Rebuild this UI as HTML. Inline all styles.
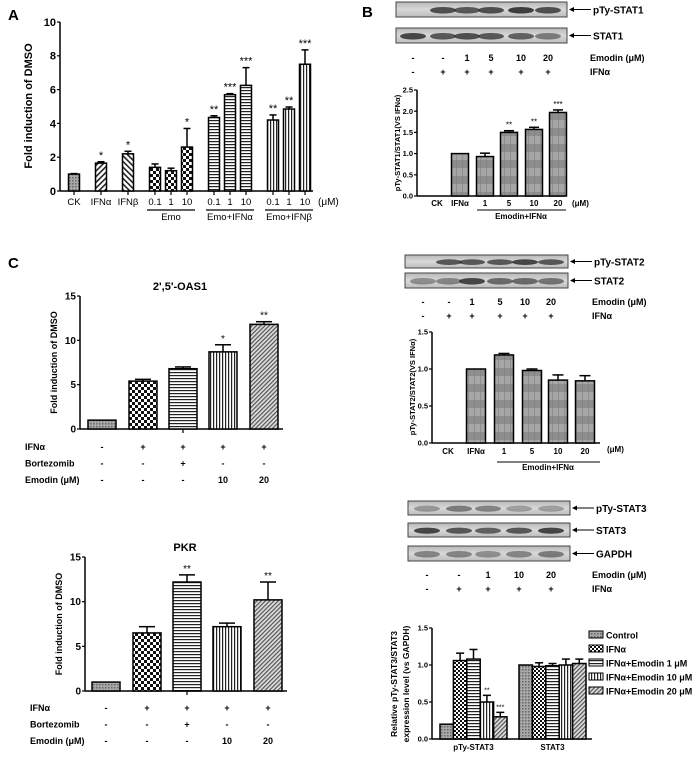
<!DOCTYPE html>
<html><head><meta charset="utf-8"><style>
html,body{margin:0;padding:0;background:#fff;}
svg{display:block;font-family:"Liberation Sans",Arial,sans-serif;font-weight:bold;}
</style></head><body>
<svg id="fig" width="700" height="759" viewBox="0 0 700 759" xmlns="http://www.w3.org/2000/svg">
<defs>
<pattern id="p-gray" width="3" height="3" patternUnits="userSpaceOnUse"><rect width="3" height="3" fill="#a8a8a8"/><rect width="1.5" height="1.5" fill="#666"/></pattern>
<pattern id="p-diag" width="4" height="4" patternUnits="userSpaceOnUse" patternTransform="rotate(45)"><rect width="4" height="4" fill="#fff"/><rect width="1.6" height="4" fill="#222"/></pattern>
<pattern id="p-diag2" width="4" height="4" patternUnits="userSpaceOnUse" patternTransform="rotate(-45)"><rect width="4" height="4" fill="#fff"/><rect width="1.6" height="4" fill="#222"/></pattern>
<pattern id="p-check" width="6" height="6" patternUnits="userSpaceOnUse"><rect width="6" height="6" fill="#fff"/><rect width="3" height="3" fill="#111"/><rect x="3" y="3" width="3" height="3" fill="#111"/></pattern>
<pattern id="p-check2" width="4" height="4" patternUnits="userSpaceOnUse"><rect width="4" height="4" fill="#fff"/><rect width="2" height="2" fill="#111"/><rect x="2" y="2" width="2" height="2" fill="#111"/></pattern>
<pattern id="p-h" width="4" height="3" patternUnits="userSpaceOnUse"><rect width="4" height="3" fill="#fff"/><rect width="4" height="1.2" fill="#222"/></pattern>
<pattern id="p-v" width="3" height="4" patternUnits="userSpaceOnUse"><rect width="3" height="4" fill="#fff"/><rect width="1.2" height="4" fill="#222"/></pattern>
<pattern id="p-hatch" width="3" height="3" patternUnits="userSpaceOnUse" patternTransform="rotate(45)"><rect width="3" height="3" fill="#ddd"/><rect width="1.2" height="3" fill="#555"/></pattern>
<pattern id="p-band" width="6" height="16" patternUnits="userSpaceOnUse"><rect width="6" height="8" fill="#8e8e8e"/><rect y="8" width="6" height="8" fill="#a6a6a6"/><rect width="1" height="16" fill="#777" opacity="0.5"/></pattern>
<linearGradient id="blotbg" x1="0" y1="0" x2="0" y2="1"><stop offset="0" stop-color="#b8b8b8"/><stop offset="0.5" stop-color="#d8d8d8"/><stop offset="1" stop-color="#bcbcbc"/></linearGradient>
</defs>
</svg>
<script>
// ---------- Panel A data ----------
var aCats = ['CK','IFNα','IFNβ','0.1','1','10','0.1','1','10','0.1','1','10'];
var aGroups = [0,1,2,3,3,3,4,4,4,5,5,5];
var aValues = [1,1.65,2.2,1.4,1.2,2.6,4.35,5.7,6.25,4.2,4.85,7.5];
var aErrs = [0.03,0.08,0.15,0.2,0.15,1.1,0.1,0.06,1.05,0.3,0.12,0.85];
var aStars = ['','*','*','','','*','**','***','***','**','**','***'];
var aTicks = [0,2,4,6,8,10];
// ---------- Panel B1 data ----------
var b1Cats = ['CK','IFNα','1','5','10','20'];
var b1Values = [0,1,0.93,1.5,1.57,1.97];
var b1Errs = [0,0,0.08,0.04,0.05,0.06];
var b1Stars = ['','','','**','**','***'];
var b1Ticks = [0,0.5,1.0,1.5,2.0,2.5];
// ---------- Panel B2 data ----------
var b2Cats = ['CK','IFNα','1','5','10','20'];
var b2Values = [0,1,1.19,0.98,0.85,0.84];
var b2Errs = [0,0,0.02,0.02,0.07,0.07];
var b2Ticks = [0,0.5,1.0,1.5];
// ---------- Panel B3 data ----------
var b3Groups = ['pTy-STAT3','STAT3'];
var b3Series = ['Control','IFNα','IFNα+Emodin 1 μM','IFNα+Emodin 10 μM','IFNα+Emodin 20 μM'];
var b3Values = [[0.2,1.06,1.08,0.5,0.3],[1,0.98,0.99,1.0,1.02]];
var b3Errs = [[0,0.1,0.13,0.09,0.06],[0,0.05,0.03,0.08,0.06]];
var b3Stars = [['','','','**','***'],['','','','','']];
var b3Ticks = [0,0.5,1.0,1.5];
// ---------- Panel C data ----------
var cCats = ['CK','IFNα','IFNα+Bort','IFNα+Emo10','IFNα+Emo20'];
var oasValues = [1,5.4,6.8,8.7,11.8];
var oasErrs = [0,0.2,0.2,0.8,0.3];
var oasStars = ['','','','*','**'];
var pkrValues = [1,6.5,12.2,7.2,10.2];
var pkrErrs = [0,0.7,0.8,0.4,2.0];
var pkrStars = ['','','**','','**'];
var cTicks = [0,5,10,15];
var cRowIFN = ['-','+','+','+','+'];
var cRowBort = ['-','-','+','-','-'];
var cRowEmo = ['-','-','-','10','20'];

var NS='http://www.w3.org/2000/svg';
var svg=document.getElementById('fig');
function mk(tag,attrs,parent,txt){var e=document.createElementNS(NS,tag);for(var k in attrs)e.setAttribute(k,attrs[k]);if(txt!==undefined)e.textContent=txt;(parent||svg).appendChild(e);return e;}
function grp(name){var g=mk('g',{});


return g;}
function txt(p,x,y,s,size,anchor,name,extra){var t=mk('text',{x:x,y:y,'font-size':size,'text-anchor':anchor||'middle'},p,s);if(extra)for(var k in extra)t.setAttribute(k,extra[k]);


return t;}

function yAxis(p,ax,y0,yTop,vmax,ticks,fs,fmt,name){
  var sc=function(v){return y0-(v/vmax)*(y0-yTop);};
  var l=mk('line',{x1:ax,y1:y0,x2:ax,y2:yTop,stroke:'#000','stroke-width':1.5},p);
  
  
  ticks.forEach(function(t){
    var tk=mk('line',{x1:ax-3,y1:sc(t),x2:ax,y2:sc(t),stroke:'#000','stroke-width':1.2},p);
    
    
    txt(p,ax-4,sc(t)+fs*0.35,fmt(t),fs,'end',name+'-y-tick-label');
  });
  return sc;
}
function bar(p,cx,w,sc,v,err,fill,star,capW,starFs,name){
  var r=mk('rect',{x:cx-w/2,y:sc(v),width:w,height:Math.max(0,sc(0)-sc(v)),fill:'url(#'+fill+')',stroke:'#000','stroke-width':1.5},p);
  
  
  var top=sc(v);
  if(err>0){
    var e=mk('line',{x1:cx,y1:sc(v),x2:cx,y2:sc(v+err),stroke:'#000','stroke-width':1.5},p);
    
    
    var c=mk('line',{x1:cx-capW/2,y1:sc(v+err),x2:cx+capW/2,y2:sc(v+err),stroke:'#000','stroke-width':1.5},p);
    
    
    top=sc(v+err);
  }
  if(star){txt(p,cx,top-3,star,starFs,'middle',name+'-significance',{'font-weight':'normal'});}
}
function xAxis(p,x1,x2,y,name){
  var l=mk('line',{x1:x1,y1:y,x2:x2,y2:y,stroke:'#000','stroke-width':1.5},p);
  
  
}
function blot(x,y,w,h,lanes,intens,label,name){
  var g=grp(name);
  var r=mk('rect',{x:x,y:y,width:w,height:h,fill:'url(#blotbg)',stroke:'#444','stroke-width':1},g);
  
  
  lanes.forEach(function(lx,i){
    if(intens[i]<=0)return;
    var b=mk('ellipse',{cx:lx,cy:y+h*0.55,rx:13,ry:h*0.22,fill:'#222',opacity:intens[i]},g);
    
    
  });
  var a=mk('line',{x1:x+w+3,y1:y+h/2,x2:x+w+24,y2:y+h/2,stroke:'#000','stroke-width':1},g);
  
  
  var ah=mk('path',{d:'M'+(x+w+2)+','+(y+h/2)+' l5,-2.5 v5 z',fill:'#000'},g);
  
  
  txt(g,x+w+26,y+h/2+4,label,10,'start',name+'-label');
}
function rowLabels(p,xs,y,vals,fs,name){vals.forEach(function(v,i){txt(p,xs[i],y,v,fs,'middle',name);});}

// ===== Panel A =====
(function(){
  var g=grp('panel-a');
  txt(g,8,20,'A',15,'start','panel-a-letter');
  var sc=yAxis(g,60,191,22,10,aTicks,11,function(t){return t;},'panel-a');
  xAxis(g,60,313,191,'panel-a');
  var pats=['p-gray','p-diag','p-diag2','p-check','p-check','p-check','p-h','p-h','p-h','p-v','p-v','p-v'];
  var cx=74, cs=[];
  aCats.forEach(function(c,i){
    if(i>0)cx+= (aGroups[i]===aGroups[i-1])?16:27;
    cs.push(cx);
    bar(g,cx,11,sc,aValues[i],aErrs[i],pats[i],aStars[i],7,11,'panel-a-bar-'+i);
    var tk=mk('line',{x1:cx,y1:191,x2:cx,y2:195,stroke:'#000','stroke-width':1.2},g);
    
    
    txt(g,cx,205,c,9.5,'middle','panel-a-x-label',{'font-weight':'normal'});
  });
  var gl=[['Emo',3],['Emo+IFNα',6],['Emo+IFNβ',9]];
  gl.forEach(function(q){
    var a=cs[q[1]]-8,b=cs[q[1]+2]+8;
    var l=mk('line',{x1:a,y1:210,x2:b,y2:210,stroke:'#000','stroke-width':1.2},g);
    
    
    txt(g,(a+b)/2,220,q[0],9.5,'middle','panel-a-group-label',{'font-weight':'normal'});
  });
  txt(g,318,205,'(μM)',10,'start','panel-a-unit',{'font-weight':'normal'});
  txt(g,0,0,'Fold induction of DMSO',11,'middle','panel-a-y-title',{transform:'translate(32,106) rotate(-90)'});
})();

// ===== Panel B1 =====
(function(){
  txt(svg,362,17,'B',15,'start','panel-b-letter');
  var lanes=[413,443,467,491,521,548];
  blot(396,2,171,15,lanes,[0,0.75,0.7,0.75,0.85,0.75],'pTy-STAT1','blot-pty-stat1');
  blot(396,28,171,15,lanes,[0.8,0.7,0.75,0.7,0.65,0.5],'STAT1','blot-stat1');
  var g=grp('panel-b1-chart');
  rowLabels(g,lanes,61,['-','-','1','5','10','20'],9,'panel-b1-emodin-row');
  txt(g,590,61,'Emodin (μM)',9,'start','panel-b1-emodin-label');
  rowLabels(g,lanes,75,['-','+','+','+','+','+'],9,'panel-b1-ifn-row');
  txt(g,590,75,'IFNα',9,'start','panel-b1-ifn-label');
  var sc=yAxis(g,417,196,90,2.5,b1Ticks,7.5,function(t){return t.toFixed(1);},'panel-b1');
  xAxis(g,417,565,196,'panel-b1');
  var cs=[437,460,485,509,534,558];
  b1Cats.forEach(function(c,i){
    bar(g,cs[i],17,sc,b1Values[i],b1Errs[i],'p-band',b1Stars[i],10,8,'panel-b1-bar-'+i);
    txt(g,cs[i],206,c,8,'middle','panel-b1-x-label');
  });
  txt(g,572,206,'(μM)',8,'start','panel-b1-unit');
  var l=mk('line',{x1:477,y1:210,x2:566,y2:210,stroke:'#000','stroke-width':1},g);
  
  
  txt(g,521,219,'Emodin+IFNα',8,'middle','panel-b1-group-label');
  txt(g,0,0,'pTy-STAT1/STAT1(VS IFNα)',7.5,'middle','panel-b1-y-title',{transform:'translate(400,143) rotate(-90)'});
})();

// ===== Panel B2 =====
(function(){
  var lanes=[423,449,472,500,525,551];
  blot(405,255,163,13,lanes,[0,0.7,0.7,0.7,0.8,0.7],'pTy-STAT2','blot-pty-stat2');
  blot(405,273,163,15,lanes,[0.4,0.45,0.8,0.6,0.6,0.55],'STAT2','blot-stat2');
  var g=grp('panel-b2-chart');
  rowLabels(g,lanes,305,['-','-','1','5','10','20'],9,'panel-b2-emodin-row');
  txt(g,592,305,'Emodin (μM)',9,'start','panel-b2-emodin-label');
  rowLabels(g,lanes,319,['-','+','+','+','+','+'],9,'panel-b2-ifn-row');
  txt(g,592,319,'IFNα',9,'start','panel-b2-ifn-label');
  var sc=yAxis(g,432,443,332,1.5,b2Ticks,7.5,function(t){return t.toFixed(1);},'panel-b2');
  xAxis(g,432,600,443,'panel-b2');
  var cs=[448,476,504,532,558,585];
  b2Cats.forEach(function(c,i){
    bar(g,cs[i],19,sc,b2Values[i],b2Errs[i],'p-band','',11,8,'panel-b2-bar-'+i);
    txt(g,cs[i],454,c,8,'middle','panel-b2-x-label');
  });
  txt(g,607,452,'(μM)',8,'start','panel-b2-unit');
  var l=mk('line',{x1:497,y1:462,x2:600,y2:462,stroke:'#000','stroke-width':1},g);
  
  
  txt(g,548,470,'Emodin+IFNα',8,'middle','panel-b2-group-label');
  txt(g,0,0,'pTy-STAT2/STAT2(VS IFNα)',7.5,'middle','panel-b2-y-title',{transform:'translate(415,387) rotate(-90)'});
})();

// ===== Panel B3 =====
(function(){
  var lanes=[427,459,488,519,551];
  blot(408,501,162,14,lanes,[0.35,0.5,0.45,0.3,0.3],'pTy-STAT3','blot-pty-stat3');
  blot(408,523,162,14,lanes,[0.8,0.7,0.65,0.7,0.8],'STAT3','blot-stat3');
  blot(408,546,162,15,lanes,[0.45,0.45,0.4,0.45,0.5],'GAPDH','blot-gapdh');
  var g=grp('panel-b3-chart');
  rowLabels(g,lanes,578,['-','-','1','10','20'],9,'panel-b3-emodin-row');
  txt(g,592,578,'Emodin (μM)',9,'start','panel-b3-emodin-label');
  rowLabels(g,lanes,592,['-','+','+','+','+'],9,'panel-b3-ifn-row');
  txt(g,592,592,'IFNα',9,'start','panel-b3-ifn-label');
  var sc=yAxis(g,432,739,628,1.5,b3Ticks,7.5,function(t){return t.toFixed(1);},'panel-b3');
  xAxis(g,432,592,739,'panel-b3');
  var pats=['p-gray','p-check2','p-h','p-v','p-hatch'];
  var gStart=[440,519], bw=13.4;
  b3Groups.forEach(function(gn,gi){
    b3Series.forEach(function(s,si){
      var cx=gStart[gi]+bw*si+bw/2;
      bar(g,cx,bw,sc,b3Values[gi][si],b3Errs[gi][si],pats[si],b3Stars[gi][si],8,7,'panel-b3-bar-'+gi+'-'+si);
    });
    txt(g,gStart[gi]+bw*2.5,750,gn,8,'middle','panel-b3-x-label');
  });
  b3Series.forEach(function(s,si){
    var y=631+si*14;
    var r=mk('rect',{x:589,y:y,width:14,height:7,fill:'url(#'+pats[si]+')',stroke:'#000','stroke-width':1},g);
    
    
    txt(g,606,y+7.5,s,9,'start','panel-b3-legend-entry');
  });
  txt(g,0,0,'Relative pTy-STAT3/STAT3',8.5,'middle','panel-b3-y-title-1',{transform:'translate(397,684) rotate(-90)'});
  txt(g,0,0,'expression level (vs GAPDH)',8.5,'middle','panel-b3-y-title-2',{transform:'translate(409,684) rotate(-90)'});
})();

// ===== Panel C =====
function cChart(name,title,titleX,titleY,ax,y0,yTop,axEnd,cs,vals,errs,stars,rowY,rowX){
  var g=grp(name);
  txt(g,titleX,titleY,title,11,'middle',name+'-title');
  var sc=yAxis(g,ax,y0,yTop,15,cTicks,10,function(t){return t;},name);
  xAxis(g,ax,axEnd,y0,name);
  var pats=['p-gray','p-check','p-h','p-v','p-hatch'];
  cCats.forEach(function(c,i){
    bar(g,cs[i],28,sc,vals[i],errs[i],pats[i],stars[i],16,10,name+'-bar-'+i);
  });
  var tk=mk('line',{x1:cs[2],y1:y0,x2:cs[2],y2:y0+4,stroke:'#000','stroke-width':1.2},g);
  
  
  var rows=[['IFNα',cRowIFN],['Bortezomib',cRowBort],['Emodin (μM)',cRowEmo]];
  rows.forEach(function(r,ri){
    txt(g,rowX,rowY+ri*16.5,r[0],9,'start',name+'-row-label');
    rowLabels(g,cs,rowY+ri*16.5,r[1],9,name+'-row-value');
  });
  txt(g,0,0,'Fold induction of DMSO',9,'middle',name+'-y-title',{transform:'translate('+(ax-23)+','+((y0+yTop)/2)+') rotate(-90)'});
}
txt(svg,8,268,'C',15,'start','panel-c-letter');
cChart('panel-c-oas1',"2',5'-OAS1",180,290,80,429,296,283,[102,143,183,223,264],oasValues,oasErrs,oasStars,450,25);
cChart('panel-c-pkr','PKR',185,551,85,691,557,287,[106,147,187,227,268],pkrValues,pkrErrs,pkrStars,711,30);
</script>
</body></html>
